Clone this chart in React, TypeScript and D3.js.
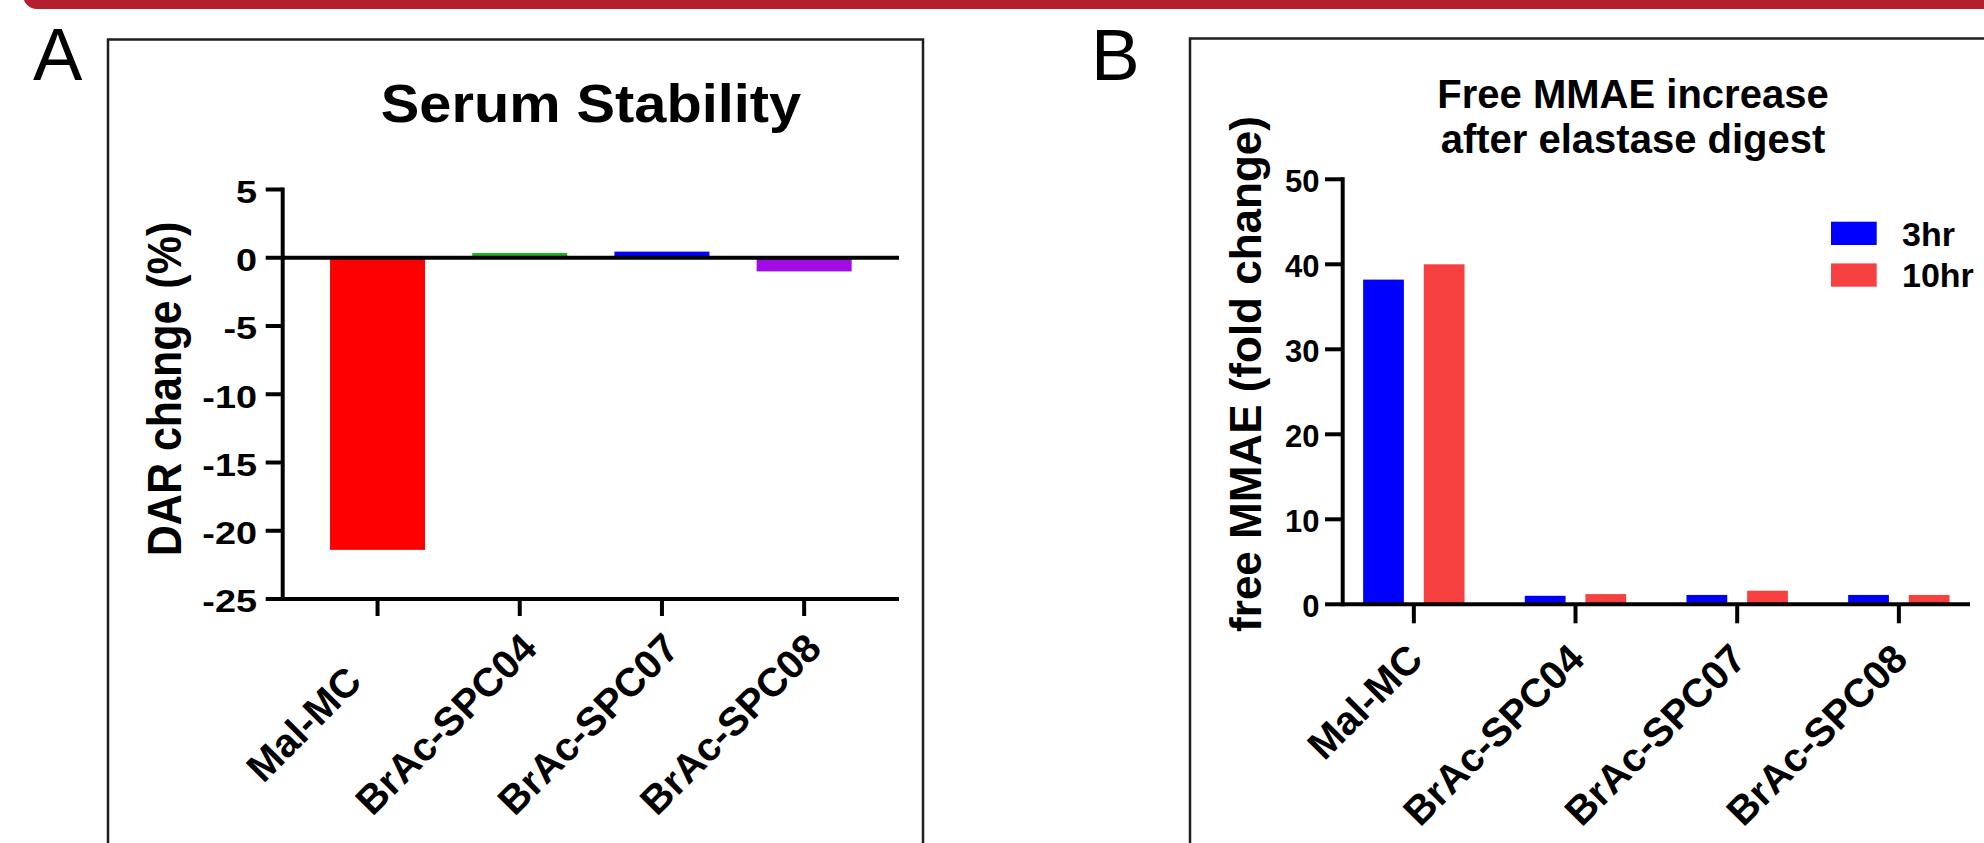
import React from 'react';
import * as d3 from 'd3';

// --- Data ---
const conjugates = ["Mal-MC", "BrAc-SPC04", "BrAc-SPC07", "BrAc-SPC08"];

// Panel A: DAR change (%) after serum incubation
const darChange = [-21.4, 0.35, 0.45, -1.0];
const darColors = ["#ff0000", "#1fb41f", "#0000ff", "#a10be6"];
const darTicks = [5, 0, -5, -10, -15, -20, -25];

// Panel B: free MMAE fold change after elastase digest
const timepoints = ["3hr", "10hr"];
const fold3hr = [38.2, 1.0, 1.1, 1.1];
const fold10hr = [40.0, 1.2, 1.6, 1.1];
const timeColors = ["#0000ff", "#f74141"];
const foldTicks = [0, 10, 20, 30, 40, 50];

const FONT = "'Liberation Sans', Arial, Helvetica, sans-serif";
const AXIS_W = 4;

function PanelA() {
  const x = d3.scalePoint<string>().domain(conjugates).range([282.7, 899]).padding(0.667);
  const y = d3.scaleLinear().domain([-25, 5]).range([599, 189.5]);
  const barW = 95;
  const axisX = 282.7;
  const tickLen = 17;

  return (
    <g>
      {/* frame */}
      <path d="M108,845 V39.5 H923 V845" fill="none" stroke="#1e1e1e" strokeWidth={2.5} />
      <text x={33} y={80} fontSize={74} fontFamily={FONT} fill="#000">A</text>

      {/* title */}
      <text transform="translate(591,121.7) scale(1.09,1)" textAnchor="middle" fontSize={53}
        fontWeight="bold" fontFamily={FONT}>Serum Stability</text>

      {/* bars */}
      {conjugates.map((c, i) => {
        const v = darChange[i];
        return (
          <rect key={c} x={x(c)! - barW / 2} y={Math.min(y(v), y(0))} width={barW}
            height={Math.abs(y(v) - y(0))} fill={darColors[i]} />
        );
      })}

      {/* y axis */}
      <line x1={axisX} x2={axisX} y1={y(5) - 2} y2={y(-25) + 2} stroke="#000" strokeWidth={AXIS_W} />
      {darTicks.map(t => (
        <g key={t}>
          <line x1={axisX - tickLen} x2={axisX} y1={y(t)} y2={y(t)} stroke="#000" strokeWidth={AXIS_W} />
          <text transform={`translate(257,${y(t) + 13.3}) scale(1.22,1)`} textAnchor="end"
            fontSize={31} fontWeight="bold" fontFamily={FONT}>{t}</text>
        </g>
      ))}
      {/* zero line and bottom axis */}
      <line x1={axisX} x2={899} y1={y(0)} y2={y(0)} stroke="#000" strokeWidth={AXIS_W} />
      <line x1={axisX} x2={899} y1={y(-25)} y2={y(-25)} stroke="#000" strokeWidth={AXIS_W} />
      {conjugates.map(c => (
        <g key={c}>
          <line x1={x(c)} x2={x(c)} y1={y(-25)} y2={y(-25) + tickLen} stroke="#000" strokeWidth={AXIS_W} />
          <text transform={`translate(${x(c)! - 74},${y(-25) + 125}) rotate(-45)`} textAnchor="middle"
            dominantBaseline="central" fontSize={40} fontWeight="bold" fontFamily={FONT}>{c}</text>
        </g>
      ))}

      {/* y title */}
      <text transform="translate(181,389) scale(1.1,1) rotate(-90)" textAnchor="middle"
        fontSize={43} fontWeight="bold" fontFamily={FONT}>DAR change (%)</text>
    </g>
  );
}

function PanelB() {
  const x0 = d3.scalePoint<string>().domain(conjugates).range([1342.7, 1970]).padding(0.44);
  const x1 = d3.scaleBand<string>().domain(timepoints).range([-50.7, 50.7]).paddingInner(0.328);
  const y = d3.scaleLinear().domain([0, 50]).range([604.3, 179.3]);
  const series = [fold3hr, fold10hr];
  const axisX = 1342.7;
  const tickLen = 17.7;

  return (
    <g>
      <path d="M1190,845 V38.5 H1990" fill="none" stroke="#1e1e1e" strokeWidth={2.5} />
      <text x={1091} y={80} fontSize={73} fontFamily={FONT} fill="#000">B</text>

      <text x={1633} y={108.3} textAnchor="middle" fontSize={40} fontWeight="bold" fontFamily={FONT}>
        Free MMAE increase
      </text>
      <text x={1633} y={153} textAnchor="middle" fontSize={40} fontWeight="bold" fontFamily={FONT}>
        after elastase digest
      </text>

      {/* bars */}
      {conjugates.map((c, i) => (
        <g key={c}>
          {timepoints.map((tp, j) => {
            const v = series[j][i];
            return (
              <rect key={tp} x={x0(c)! + x1(tp)!} y={y(v)} width={x1.bandwidth()}
                height={y(0) - y(v)} fill={timeColors[j]} />
            );
          })}
        </g>
      ))}

      {/* y axis */}
      <line x1={axisX} x2={axisX} y1={y(50) - 2} y2={y(0) + 2} stroke="#000" strokeWidth={AXIS_W} />
      {foldTicks.map(t => (
        <g key={t}>
          <line x1={axisX - tickLen} x2={axisX} y1={y(t)} y2={y(t)} stroke="#000" strokeWidth={AXIS_W} />
          <text x={1319.5} y={y(t) + 13} textAnchor="end" fontSize={31} fontWeight="bold"
            fontFamily={FONT}>{t}</text>
        </g>
      ))}
      {/* x axis */}
      <line x1={axisX} x2={1970} y1={y(0)} y2={y(0)} stroke="#000" strokeWidth={AXIS_W} />
      {conjugates.map(c => (
        <g key={c}>
          <line x1={x0(c)} x2={x0(c)} y1={y(0)} y2={y(0) + 19} stroke="#000" strokeWidth={AXIS_W} />
          <text transform={`translate(${x0(c)! + 11},${y(0) + 57}) rotate(-45)`} textAnchor="end"
            fontSize={40} fontWeight="bold" fontFamily={FONT}>{c}</text>
        </g>
      ))}

      <text transform="translate(1261,374) rotate(-90)" textAnchor="middle" fontSize={44}
        fontWeight="bold" fontFamily={FONT}>free MMAE (fold change)</text>

      {/* legend */}
      {timepoints.map((tp, j) => (
        <g key={tp}>
          <rect x={1831} y={221.7 + j * 41.7} width={45.7} height={23.3} fill={timeColors[j]} />
          <text x={1902} y={246 + j * 41} fontSize={34} fontWeight="bold" fontFamily={FONT}>{tp}</text>
        </g>
      ))}
    </g>
  );
}

export default function App() {
  return (
    <svg width={1984} height={843} viewBox="0 0 1984 843"
      style={{ position: 'absolute', left: 0, top: 0, background: '#fff', display: 'block' }}>
      <rect x={0} y={0} width={1984} height={843} fill="#fff" />
      {/* header band */}
      <rect x={23} y={-30} width={2000} height={39} rx={14} fill="#b31f2f" />
      <PanelA />
      <PanelB />
    </svg>
  );
}
